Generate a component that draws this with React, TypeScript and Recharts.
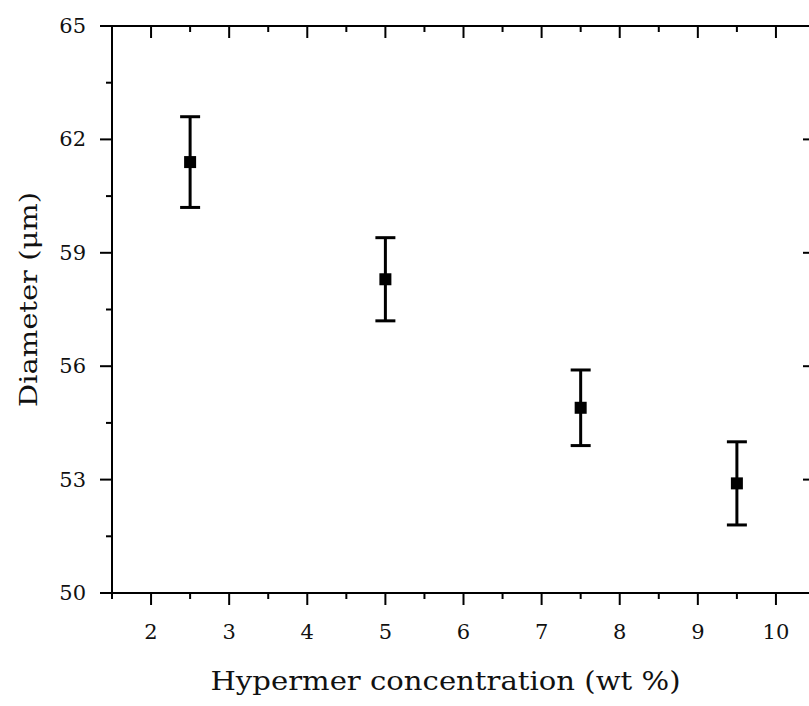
import { ScatterChart, Scatter, XAxis, YAxis, ErrorBar, Label } from "recharts";

const concentration = [2.5, 5, 7.5, 9.5];
const diameter = [61.4, 58.3, 54.9, 52.9];
const diameterErr = [1.2, 1.1, 1.0, 1.1];

const xTicks = [1.5, 2, 2.5, 3, 3.5, 4, 4.5, 5, 5.5, 6, 6.5, 7, 7.5, 8, 8.5, 9, 9.5, 10, 10.5];
const xLabels = [2, 3, 4, 5, 6, 7, 8, 9, 10];
const yTicks = [50, 51.5, 53, 54.5, 56, 57.5, 59, 60.5, 62, 63.5, 65];
const yLabels = [50, 53, 56, 59, 62, 65];

const data = concentration.map((x, i) => ({ x, y: diameter[i], err: diameterErr[i] }));

const FONT = "'DejaVu Serif', serif";
const INK = "#000";
const TEXT = "#111";

const CHART_W = 840;
const CHART_H = 706;
const M_RIGHT = 25;
const PLOT_RIGHT = CHART_W - M_RIGHT; // right frame edge, sits just past the window

// ticks drawn by hand so minor ticks and inward ticks on top/right work
function makeTick(side: "bottom" | "top" | "left", labels: number[]) {
    return (props: any) => {
        const { x, y, payload } = props;
        const major = labels.includes(payload.value);
        const len = major ? 12 : 6;
        if (side === "bottom") {
            return (
                <g>
                    <line x1={x} y1={y} x2={x} y2={y + len} stroke={INK} strokeWidth={2} />
                    {major && (
                        <text x={x} y={y + 46} textAnchor="middle" fontFamily={FONT} fontSize={21} fill={TEXT}>
                            {payload.value}
                        </text>
                    )}
                </g>
            );
        }
        if (side === "top") {
            return (
                <g>
                    <line x1={x} y1={y} x2={x} y2={y + len} stroke={INK} strokeWidth={2} />
                </g>
            );
        }
        // left axis: outward tick + label, plus the inward tick on the right frame
        return (
            <g>
                <line x1={x} y1={y} x2={x - len} y2={y} stroke={INK} strokeWidth={2} />
                <line x1={PLOT_RIGHT} y1={y} x2={PLOT_RIGHT - len} y2={y} stroke={INK} strokeWidth={2} />
                {major && (
                    <text x={x - 26} y={y + 7} textAnchor="end" fontFamily={FONT} fontSize={21} fill={TEXT}>
                        {payload.value}
                    </text>
                )}
            </g>
        );
    };
}

const Square = (props: any) => (
    <rect x={props.cx - 6} y={props.cy - 6} width={12} height={12} fill={INK} />
);

const Nothing = () => <g />;

export default function App() {
    return (
        <div style={{ position: "absolute", left: 0, top: 0, width: 809, height: 706, overflow: "hidden", background: "#fff" }}>
            <ScatterChart width={CHART_W} height={CHART_H} margin={{ top: 0, right: M_RIGHT, bottom: 0, left: 0 }}>
                <XAxis
                    xAxisId="b"
                    type="number"
                    dataKey="x"
                    orientation="bottom"
                    domain={[1.5, 10.5]}
                    ticks={xTicks}
                    interval={0}
                    height={113}
                    tickSize={0}
                    tickMargin={0}
                    tickLine={false}
                    axisLine={{ stroke: INK, strokeWidth: 2 }}
                    tick={makeTick("bottom", xLabels)}
                >
                    <Label
                        content={(p: any) => {
                            const vb = p.viewBox;
                            return (
                                <text x={vb.x + vb.width / 2 - 18} y={vb.y + 97} textAnchor="middle" fontFamily={FONT} fontSize={26} fill={TEXT} textLength={470} lengthAdjust="spacingAndGlyphs">
                                    Hypermer concentration (wt %)
                                </text>
                            );
                        }}
                    />
                </XAxis>
                <XAxis
                    xAxisId="t"
                    type="number"
                    dataKey="x"
                    orientation="top"
                    domain={[1.5, 10.5]}
                    ticks={xTicks}
                    interval={0}
                    height={26}
                    tickSize={0}
                    tickMargin={0}
                    tickLine={false}
                    axisLine={{ stroke: INK, strokeWidth: 2 }}
                    tick={makeTick("top", xLabels)}
                />
                <YAxis
                    yAxisId="l"
                    type="number"
                    dataKey="y"
                    orientation="left"
                    domain={[50, 65]}
                    ticks={yTicks}
                    interval={0}
                    width={112}
                    tickSize={0}
                    tickMargin={0}
                    tickLine={false}
                    axisLine={{ stroke: INK, strokeWidth: 2 }}
                    tick={makeTick("left", yLabels)}
                >
                    <Label
                        content={(p: any) => {
                            const vb = p.viewBox;
                            const cx = vb.x + 28;
                            const cy = vb.y + vb.height / 2 - 10;
                            return (
                                <text x={cx} y={cy} transform={`rotate(-90 ${cx} ${cy})`} textAnchor="middle" dominantBaseline="central" fontFamily={FONT} fontSize={25} fill={TEXT} textLength={215} lengthAdjust="spacingAndGlyphs">
                                    Diameter (μm)
                                </text>
                            );
                        }}
                    />
                </YAxis>
                {/* invisible copy so the top axis gets a scale */}
                <Scatter xAxisId="t" yAxisId="l" data={data} shape={Nothing} isAnimationActive={false} />
                <Scatter xAxisId="b" yAxisId="l" data={data} shape={Square} isAnimationActive={false}>
                    <ErrorBar dataKey="err" direction="y" width={10} stroke={INK} strokeWidth={3} isAnimationActive={false} />
                </Scatter>
            </ScatterChart>
        </div>
    );
}
